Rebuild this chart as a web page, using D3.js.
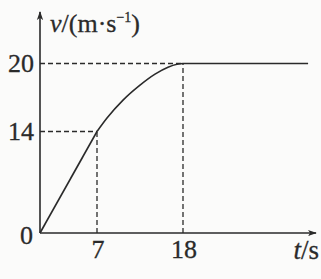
<!DOCTYPE html>
<html>
<head>
<meta charset="UTF-8">
<title>v-t</title>
<script src="https://cdn.jsdelivr.net/npm/d3@7"></script>
<style>
  body { margin: 0; background: #fbfbfa; }
  svg text { font-family: "Liberation Serif", "DejaVu Serif", serif; fill: #2a2a2a; stroke: #2a2a2a; stroke-width: 0.3px; }
</style>
</head>
<body>
<script>
    var width = 321,
        height = 279;

    // 數據
    var tTicks = [7, 18];
    var vTicks = [14, 20];
    var rampT = [0, 7];
    var rampV = [0, 14];
    var curveT = [7, 8.28, 10.33, 12.5, 14.42, 16.08, 17.23, 18, 34];
    var curveV = [14, 15.19, 16.77, 18.09, 19.06, 19.67, 19.93, 20, 20];

    var ink = "#2a2a2a";

    var svg = d3.select("body").append("svg")
        .attr("width", width)
        .attr("height", height);

    // 圖不是按比例畫的，所以用分段的比例尺
    var x = d3.scaleLinear().domain([0, 7, 18]).range([40, 97, 183]);
    var y = d3.scaleLinear().domain([0, 14, 20]).range([233, 131.5, 63.5]);

    var defs = svg.append("defs");
    defs.append("marker")
        .attr("id", "arrow")
        .attr("viewBox", "0 0 10 10")
        .attr("refX", 9).attr("refY", 5)
        .attr("markerWidth", 9).attr("markerHeight", 9)
        .attr("markerUnits", "userSpaceOnUse")
        .attr("orient", "auto")
        .append("path")
        .attr("d", "M0,1.5 L10,5 L0,8.5 L2.5,5 Z")
        .style("fill", ink);

    // 虛線
    var dash = svg.append("g")
        .style("stroke", ink)
        .style("stroke-width", 1.3)
        .style("stroke-dasharray", "5,3");
    tTicks.forEach(function(t, i) {
        dash.append("line")
            .attr("x1", x(t)).attr("x2", x(t))
            .attr("y1", y(0)).attr("y2", y(vTicks[i]));
        dash.append("line")
            .attr("x1", x(0)).attr("x2", x(t))
            .attr("y1", y(vTicks[i])).attr("y2", y(vTicks[i]));
    });

    // 座標軸
    svg.append("line")
        .attr("x1", x(0)).attr("y1", y(0))
        .attr("x2", 316).attr("y2", y(0))
        .style("stroke", ink).style("stroke-width", 1.6)
        .attr("marker-end", "url(#arrow)");
    svg.append("line")
        .attr("x1", x(0)).attr("y1", y(0))
        .attr("x2", x(0)).attr("y2", 12)
        .style("stroke", ink).style("stroke-width", 1.6)
        .attr("marker-end", "url(#arrow)");

    // 曲線
    var line = d3.line()
        .x(function(d) { return x(d[0]); })
        .y(function(d) { return y(d[1]); });

    svg.append("path")
        .datum(d3.zip(rampT, rampV))
        .attr("d", line)
        .style("fill", "none").style("stroke", ink).style("stroke-width", 1.6);

    svg.append("path")
        .datum(d3.zip(curveT, curveV))
        .attr("d", line.curve(d3.curveMonotoneX))
        .style("fill", "none").style("stroke", ink).style("stroke-width", 1.6);

    // 刻度
    svg.selectAll(".tl").data(tTicks).enter().append("text")
        .attr("x", function(d) { return x(d) + 1; })
        .attr("y", 258)
        .attr("text-anchor", "middle")
        .style("font-size", "26px")
        .text(function(d) { return d; });

    svg.selectAll(".vl").data(vTicks).enter().append("text")
        .attr("x", 34)
        .attr("y", function(d) { return y(d) + 8.5; })
        .attr("text-anchor", "end")
        .style("font-size", "26px")
        .text(function(d) { return d; });

    svg.append("text")
        .attr("x", 33).attr("y", y(0) + 11)
        .attr("text-anchor", "end")
        .style("font-size", "26px")
        .text("0");

    // 軸名
    var vl = svg.append("text")
        .attr("x", 50).attr("y", 32)
        .style("font-size", "26px");
    vl.append("tspan").style("font-style", "italic").text("v");
    vl.append("tspan").text("/(m·s");
    vl.append("tspan").attr("dy", -10).style("font-size", "14px").text("−1");
    vl.append("tspan").attr("dy", 10).text(")");

    var tl = svg.append("text")
        .attr("x", 319).attr("y", 259)
        .attr("text-anchor", "end")
        .style("font-size", "27px");
    tl.append("tspan").style("font-style", "italic").text("t");
    tl.append("tspan").text("/s");
</script>
</body>
</html>
